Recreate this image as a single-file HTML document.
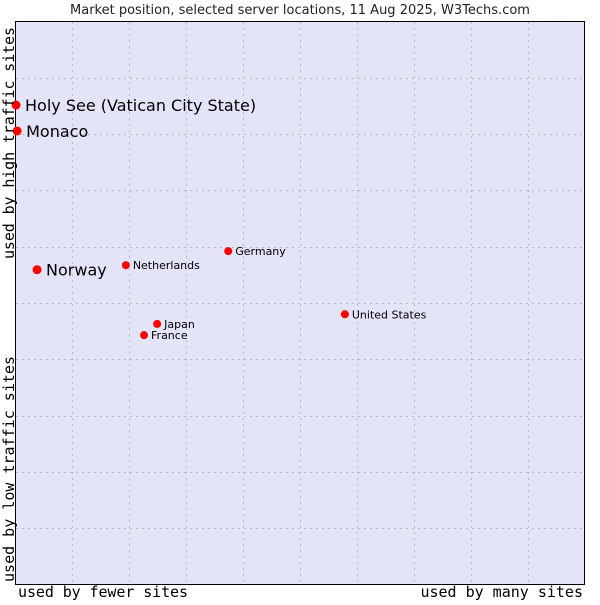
<!DOCTYPE html>
<html><head><meta charset="utf-8"><style>
body{margin:0;background:#fff;width:600px;height:600px;overflow:hidden}
svg text{font-family:"DejaVu Sans","Liberation Sans",sans-serif}
.mono{font-family:"DejaVu Sans Mono","Liberation Mono",monospace}
</style></head><body>
<svg id="chart" width="600" height="600">
<text x="300" y="14" text-anchor="middle" font-size="13" fill="#222">Market position, selected server locations, 11 Aug 2025, W3Techs.com</text>
<rect x="15.5" y="21.5" width="569" height="563" fill="#e3e4f8" stroke="#000"/>
<g id="grid"></g>
<g id="marks"></g>
<text class="mono" x="18" y="597" font-size="15" textLength="170" fill="#000">used by fewer sites</text>
<text class="mono" x="583" y="597" font-size="15" text-anchor="end" fill="#000">used by many sites</text>
<text class="mono" transform="translate(14,259) rotate(-90)" font-size="15" textLength="232" fill="#000">used by high traffic sites</text>
<text class="mono" transform="translate(14,582) rotate(-90)" font-size="15" textLength="226" fill="#000">used by low traffic sites</text>
</svg>
<script>
const names=["Holy See (Vatican City State)","Monaco","Norway","Netherlands","Germany","United States","Japan","France"];
const xs=[0,0.2,3.7,19.3,37.3,57.8,24.8,22.5];
const ys=[85.1,80.5,55.9,56.7,59.2,48.0,46.3,44.3];
const big=[true,true,true,false,false,false,false,false];
const NS="http://www.w3.org/2000/svg";
const X0=16,X1=585,Y0=585,Y1=21;
const sx=v=>X0+v/100*(X1-X0);
const sy=v=>Y0-v/100*(Y0-Y1);
const grid=document.getElementById('grid');
for(let i=1;i<10;i++){
 const x=Math.round(15.5+i*56.9)+0.5;
 const l=document.createElementNS(NS,'line');
 
 
 l.setAttribute('x1',x);l.setAttribute('x2',x);l.setAttribute('y1',22);l.setAttribute('y2',584);
 l.setAttribute('stroke','#bbb');l.setAttribute('stroke-dasharray','2,4');grid.appendChild(l);
 const y=Math.round(21.5+i*56.3)+0.5;
 const h=document.createElementNS(NS,'line');
 
 
 h.setAttribute('x1',16);h.setAttribute('x2',584);h.setAttribute('y1',y);h.setAttribute('y2',y);
 h.setAttribute('stroke','#bbb');h.setAttribute('stroke-dasharray','2,4');grid.appendChild(h);
}
const marks=document.getElementById('marks');
names.forEach((n,i)=>{
 const x=sx(xs[i]),y=sy(ys[i]);
 const p=document.createElementNS(NS,'circle');
 
 
 p.setAttribute('cx',x);p.setAttribute('cy',y);p.setAttribute('r',big[i]?4.5:4);
 p.setAttribute('fill','#f00');marks.appendChild(p);
 const t=document.createElementNS(NS,'text');
 
 
 t.setAttribute('x',x+(big[i]?9:7));
 t.setAttribute('y',y+(big[i]?6:4));
 t.setAttribute('font-size',big[i]?16:11);
 t.setAttribute('fill','#000');
 t.textContent=n;marks.appendChild(t);
});
</script>
</body></html>
